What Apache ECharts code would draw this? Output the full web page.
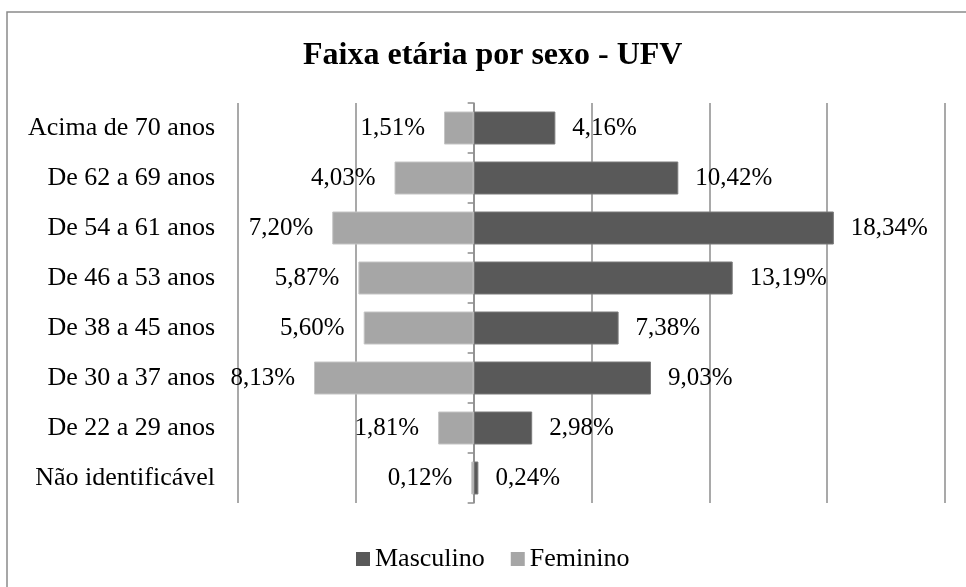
<!DOCTYPE html>
<html>
<head>
<meta charset="utf-8">
<script src="https://cdn.jsdelivr.net/npm/echarts@6/dist/echarts.min.js"></script>
<style>
  html, body { margin: 0; padding: 0; background: #fff; }
  #chart { width: 966px; height: 587px; }
</style>
</head>
<body>
<div id="chart"></div>
<script>
// faixas etárias (de cima para baixo)
var faixas = ['Acima de 70 anos', 'De 62 a 69 anos', 'De 54 a 61 anos', 'De 46 a 53 anos',
              'De 38 a 45 anos', 'De 30 a 37 anos', 'De 22 a 29 anos', 'Não identificável'];
// percentuais por sexo
var masculino = [4.16, 10.42, 18.34, 13.19, 7.38, 9.03, 2.98, 0.24];
var feminino = [1.51, 4.03, 7.20, 5.87, 5.60, 8.13, 1.81, 0.12];

var fonte = 'Liberation Serif, Times New Roman, serif';

function fmt(v) {
    return Math.abs(v).toFixed(2).replace('.', ',') + '%';
}

var chart = echarts.init(document.getElementById('chart'));

var option = {
    animation: false,
    backgroundColor: '#fff',
    // moldura cinza em volta do gráfico
    graphic: [{
        type: 'rect',
        shape: { x: 7, y: 12, width: 1000, height: 1000 },
        style: { fill: 'none', stroke: '#8a8a8a', lineWidth: 1.5 },
        silent: true
    }],
    title: {
        text: 'Faixa etária por sexo - UFV',
        left: 298,
        top: 35,
        textStyle: { fontFamily: fonte, fontSize: 32, fontWeight: 'bold', color: '#000' }
    },
    legend: {
        data: ['Masculino', 'Feminino'],
        left: 351,
        top: 541,
        itemWidth: 14,
        itemHeight: 14,
        itemGap: 26,
        icon: 'rect',
        itemStyle: { borderWidth: 0 },
        textStyle: { fontFamily: fonte, fontSize: 26, color: '#000' }
    },
    grid: { left: 238, right: 21, top: 103, bottom: 84 },
    xAxis: {
        type: 'value',
        min: -12,
        max: 24,
        interval: 6,
        axisLabel: { show: false },
        axisLine: { show: false },
        axisTick: { show: false },
        splitLine: { show: true, lineStyle: { color: '#8c8c8c', width: 1.5 } }
    },
    yAxis: [
        {
            // só os rótulos, à esquerda
            type: 'category',
            inverse: true,
            data: faixas,
            axisLine: { show: false, onZero: false },
            axisTick: { show: false },
            axisLabel: { margin: 23, fontFamily: fonte, fontSize: 26, color: '#000' }
        },
        {
            // eixo no zero com os tracinhos
            type: 'category',
            inverse: true,
            position: 'left',
            data: faixas,
            axisLine: { show: true, onZero: true, lineStyle: { color: '#8c8c8c', width: 1.5 } },
            axisTick: { show: true, length: 6, lineStyle: { color: '#8c8c8c', width: 1.5 } },
            axisLabel: { show: false },
            splitLine: { show: false }
        }
    ],
    series: [
        {
            name: 'Masculino',
            type: 'bar',
            yAxisIndex: 0,
            barWidth: 33,
            barGap: '-100%',
            data: masculino,
            itemStyle: { color: '#595959', borderColor: '#7a7a7a', borderWidth: 1 },
            label: {
                show: true,
                position: 'right',
                distance: 17,
                formatter: function (p) { return fmt(p.value); },
                fontFamily: fonte,
                fontSize: 25,
                color: '#000'
            }
        },
        {
            name: 'Feminino',
            type: 'bar',
            yAxisIndex: 0,
            barWidth: 33,
            barGap: '-100%',
            data: feminino.map(function (v) { return -v; }),
            itemStyle: { color: '#a6a6a6', borderColor: '#c4c4c4', borderWidth: 1 },
            label: {
                show: true,
                position: 'left',
                distance: 19,
                formatter: function (p) { return fmt(p.value); },
                fontFamily: fonte,
                fontSize: 25,
                color: '#000'
            }
        }
    ]
};

chart.setOption(option);
</script>
</body>
</html>
